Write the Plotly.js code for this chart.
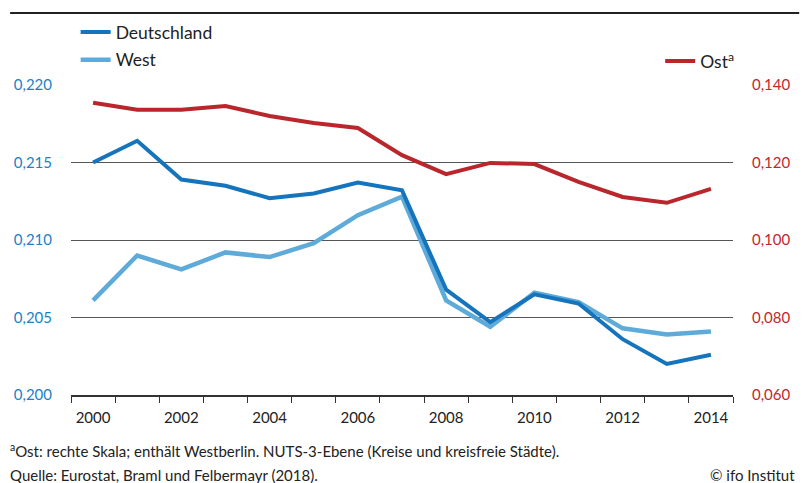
<!DOCTYPE html>
<html><head><meta charset="utf-8">
<script src="https://cdn.plot.ly/plotly-3.0.1.min.js"></script>
<style>html,body{margin:0;padding:0;background:#fff}#chart{width:806px;height:483px}</style>
</head><body><div id="chart"></div>
<script>
const years = [2000,2001,2002,2003,2004,2005,2006,2007,2008,2009,2010,2011,2012,2013,2014];
const deutschland = [0.2150,0.2164,0.2139,0.2135,0.2127,0.2130,0.2137,0.2132,0.2068,0.2047,0.2065,0.2059,0.2036,0.2020,0.2026];
const west = [0.2061,0.2090,0.2081,0.2092,0.2089,0.2098,0.2116,0.2128,0.2061,0.2044,0.2066,0.2060,0.2043,0.2039,0.2041];
const ost = [0.1354,0.1336,0.1336,0.1346,0.1320,0.1302,0.1289,0.1219,0.1170,0.1199,0.1196,0.1150,0.1111,0.1096,0.1132];
const xTickLabels = ['2000','2002','2004','2006','2008','2010','2012','2014'];
const xTickVals = [2000,2002,2004,2006,2008,2010,2012,2014];

const FONT = 'Lato, "Open Sans", sans-serif';
const cDE = '#1574bb', cW = '#5eabda', cO = '#b9272d';

const traces = [
  {x: years, y: ost, name: 'Ost<sup>a</sup>', yaxis: 'y2', type: 'scatter', mode: 'lines',
   line: {color: cO, width: 4}, legend: 'legend2'},
  {x: years, y: west, name: 'West', type: 'scatter', mode: 'lines',
   line: {color: cW, width: 4.5}, legendgroup: 'w', legendrank: 2},
  {x: years, y: deutschland, name: 'Deutschland', type: 'scatter', mode: 'lines',
   line: {color: cDE, width: 4}, legendgroup: 'd', legendrank: 1}
];

const layout = {
  width: 806, height: 483,
  margin: {l: 71, r: 73, t: 85, b: 88},
  paper_bgcolor: '#fff', plot_bgcolor: '#fff',
  separators: ',.',
  font: {family: FONT, size: 15, color: '#222'},
  showlegend: true,
  legend: {x: 0.007, xanchor: 'left', y: 1.229, yanchor: 'top', orientation: 'v',
    font: {size: 17.5, color: '#222'}, bgcolor: 'rgba(0,0,0,0)', tracegroupgap: 2,
    traceorder: 'grouped', itemwidth: 30},
  legend2: {x: 0.89, xanchor: 'left', y: 1.135, yanchor: 'top',
    font: {size: 17.5, color: '#222'}, bgcolor: 'rgba(0,0,0,0)'},
  xaxis: {range: [1999.5, 2014.5], tickvals: xTickVals, ticktext: xTickLabels,
    ticks: '', showgrid: false, zeroline: false, showline: true, linecolor: '#333', linewidth: 1.5,
    tickfont: {size: 15, color: '#222'}, ticklabelstandoff: 8,
    minor: {tickmode: 'linear', tick0: 1999.5, dtick: 1, ticks: 'outside', ticklen: 6, tickcolor: '#333', tickwidth: 1, showgrid: false}},
  yaxis: {range: [0.200, 0.220], dtick: 0.005, tick0: 0.200, tickformat: '.3f',
    showgrid: true, gridcolor: '#555', gridwidth: 1, zeroline: false, showline: false,
    ticks: '', tickfont: {size: 15, color: '#1d7fc4'}, ticklabelstandoff: 18},
  yaxis2: {range: [0.060, 0.140], dtick: 0.020, tick0: 0.060, tickformat: '.3f',
    overlaying: 'y', side: 'right', showgrid: false, zeroline: false, showline: false,
    ticks: '', tickfont: {size: 15, color: '#c0282e'}, ticklabelstandoff: 18},
  shapes: [
    {type: 'line', xref: 'paper', yref: 'paper', x0: -0.092, x1: 1.1, y0: 1.232, y1: 1.232,
     line: {color: '#222', width: 2}}
  ],
  annotations: [
    {xref: 'paper', yref: 'paper', x: -0.095, y: -0.18, xanchor: 'left', yanchor: 'middle', showarrow: false,
     text: '<sup>a</sup>Ost: rechte Skala; enthält Westberlin. NUTS-3-Ebene (Kreise und kreisfreie Städte).',
     font: {size: 15, color: '#222'}},
    {xref: 'paper', yref: 'paper', x: -0.095, y: -0.258, xanchor: 'left', yanchor: 'middle', showarrow: false,
     text: 'Quelle: Eurostat, Braml und Felbermayr (2018).', font: {size: 15, color: '#222'}},
    {xref: 'paper', yref: 'paper', x: 1.097, y: -0.258, xanchor: 'right', yanchor: 'middle', showarrow: false,
     text: '© ifo Institut', font: {size: 15, color: '#222'}}
  ]
};

Plotly.newPlot('chart', traces, layout, {displayModeBar: false, staticPlot: true});
</script></body></html>
